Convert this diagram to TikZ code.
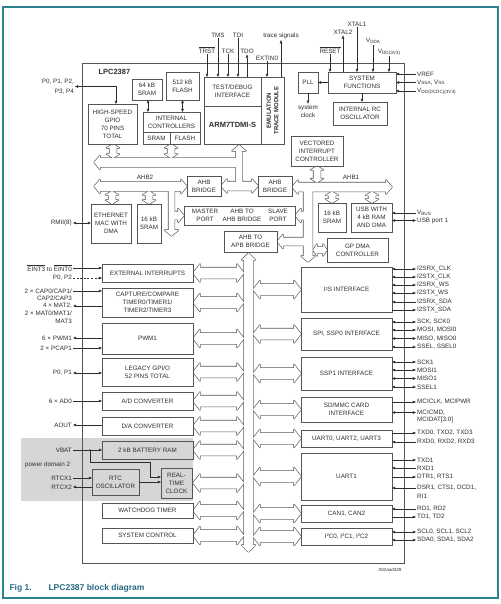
\documentclass[tikz,border=0pt]{standalone}
\usepackage{fontspec}
\setmainfont{Liberation Sans}
\usetikzlibrary{arrows.meta,calc}
\definecolor{frm}{RGB}{45,130,145}
\definecolor{capc}{RGB}{40,105,130}
\definecolor{ink}{RGB}{45,45,45}
\definecolor{edge}{RGB}{85,85,85}
\definecolor{pd}{RGB}{214,214,214}
\newcommand\fs{\fontsize{6.3}{8}\selectfont}
\newcommand\sbs[1]{\raisebox{-0.7pt}{\fontsize{4.6}{5}\selectfont #1}}
\newcommand\sps[1]{\raisebox{1.8pt}{\fontsize{4.2}{5}\selectfont #1}}
\newcommand\ov[1]{$\overline{\mbox{#1}}$}
\newcommand\bx[7][]{\node[box,#1,minimum width={#5pt-#3pt},minimum height={#6pt-#4pt},anchor=north west] (#2) at (#3,#4) {#7};}
% bus shapes
\newcommand\hda[6]{\path[bm] (#1,#3) -- ({#1+#6},{#3-#5}) -- ({#1+#6},{#3-#4}) -- ({#2-#6},{#3-#4}) -- ({#2-#6},{#3-#5}) -- (#2,#3) -- ({#2-#6},{#3+#5}) -- ({#2-#6},{#3+#4}) -- ({#1+#6},{#3+#4}) -- ({#1+#6},{#3+#5}) -- cycle;}
\newcommand\vda[6]{\path[bm] (#1,#2) -- ({#1-#5},{#2+#6}) -- ({#1-#4},{#2+#6}) -- ({#1-#4},{#3-#6}) -- ({#1-#5},{#3-#6}) -- (#1,#3) -- ({#1+#5},{#3-#6}) -- ({#1+#4},{#3-#6}) -- ({#1+#4},{#2+#6}) -- ({#1+#5},{#2+#6}) -- cycle;}
\newcommand\harr[6]{\pgfmathsetmacro\hb{#2-(#6)*sign(#2-#1)}\path[bm] (#1,{#3-#4}) -- (\hb,{#3-#4}) -- (\hb,{#3-#5}) -- (#2,#3) -- (\hb,{#3+#5}) -- (\hb,{#3+#4}) -- (#1,{#3+#4}) -- cycle;}
\newcommand\varr[6]{\pgfmathsetmacro\vb{#3-(#6)*sign(#3-#2)}\path[bm] ({#1-#4},#2) -- ({#1-#4},\vb) -- ({#1-#5},\vb) -- (#1,#3) -- ({#1+#5},\vb) -- ({#1+#4},\vb) -- ({#1+#4},#2) -- cycle;}
\newcommand\lbr[1]{\hda{193}{244}{#1}{5.5}{9}{7}}
\newcommand\rbr[1]{\hda{253}{301}{#1}{5.5}{9}{7}}
\newcommand\sva[3]{\vda{#1}{#2}{#3}{3.5}{6.5}{4}}
\newcommand\allbuses{%
% ARM local bus
\harr{240}{94}{162.5}{4.5}{7}{6}
\varr{239}{188}{145}{3}{7}{6}
\hda{221}{258}{186}{4.5}{7}{6}
% AHB2
\hda{94}{187}{186.5}{4.5}{7}{6}
\varr{171.5}{187}{236}{3}{7}{6}
\harr{171.5}{184}{215.5}{4}{7}{6}
% AHB1
\hda{292}{392}{187}{4.5}{7}{6}
\varr{308}{187}{262}{4.5}{7}{6}
\harr{308}{295}{215.5}{4}{7}{6}
\harr{308}{277}{241.5}{4}{7}{6}
\hda{313}{327}{250}{3}{6}{4}
% APB
\vda{248.5}{253}{552}{4.5}{7}{7}
\lbr{273}\lbr{302.5}\lbr{338.5}\lbr{372}\lbr{401}\lbr{426}\lbr{450}\lbr{483}\lbr{510.5}\lbr{535.5}
\rbr{289.5}\rbr{334}\rbr{373.5}\rbr{409.5}\rbr{438.5}\rbr{476.5}\rbr{513.5}\rbr{536.5}
% small links
\sva{113}{144}{158}\sva{171}{144}{158}
\sva{112}{191}{204}\sva{149}{191}{204}
\sva{317}{166}{182.5}\sva{332}{191.5}{203}\sva{372}{191.5}{203}
}
\begin{document}
\begin{tikzpicture}[x=1pt,y=-1pt,font=\fs,text=ink,
  box/.style={draw=edge,line width=0.7pt,fill=white,align=center,inner sep=0.5pt,outer sep=0pt,font=\fs},
  sig/.style={draw=ink,line width=0.45pt},
  lab/.style={inner sep=1pt,font=\fs},
  >={Triangle[length=3.2pt,width=2.6pt]}]
\useasboundingbox (0,0) rectangle (500,604);
\draw[frm,line width=1.2pt] (3,7) rectangle (498,598);
\node[anchor=west,font=\fontsize{8.5}{10}\bfseries\selectfont,text=capc] (fig) at (6,588) {Fig 1.};
\node[anchor=west,font=\fontsize{8.5}{10}\bfseries\selectfont,text=capc] (figt) at (45,588) {LPC2387 block diagram};
\node[font=\fontsize{4.5}{5}\itshape\selectfont] (code) at (390,570) {002aad328};
% power domain
\fill[pd] (21,438) rectangle (193,501);
% chip
\draw[edge,line width=0.8pt] (82,63) rectangle (404,563);
\node[anchor=west,font=\fontsize{7.5}{9}\bfseries\selectfont] (chip) at (95,72) {LPC2387};
% buses
\tikzset{bm/.style={draw=edge,line width=1.3pt,line join=round}}
\allbuses
\tikzset{bm/.style={fill=white}}
\allbuses
% top boxes
\bx{gpio}{88}{104}{137}{144}{HIGH-SPEED\\GPIO\\70 PINS\\TOTAL}
\bx{sram64}{132}{79}{162}{100}{64 kB\\SRAM}
\bx{flash}{166}{72}{199}{100}{512 kB\\FLASH}
\bx{ictl}{143}{112}{200}{132}{INTERNAL\\CONTROLLERS}
\bx{ictls}{143}{132}{170}{144}{SRAM}
\bx{ictlf}{170}{132}{200}{144}{FLASH}
\bx{dbg}{204}{77}{261}{106}{TEST/DEBUG\\INTERFACE}
\bx[font=\fontsize{7.5}{9}\bfseries\selectfont]{arm}{204}{106}{261}{144}{ARM7TDMI-S}
\bx{etm}{261}{77}{284}{144}{}
\node[rotate=90,align=center,font=\fontsize{6}{7.6}\bfseries\selectfont] (etmt) at (etm.center) {EMULATION\\TRACE MODULE};
\bx{pll}{298}{72}{318}{93}{PLL}
\bx{sysf}{328}{72}{396}{93}{SYSTEM\\FUNCTIONS}
\bx{rco}{333}{102}{387}{125}{INTERNAL RC\\OSCILLATOR}
\bx{vic}{291}{136}{343}{166}{VECTORED\\INTERRUPT\\CONTROLLER}
\bx{ahbbl}{187}{176}{221}{196}{AHB\\BRIDGE}
\bx{ahbbr}{258}{176}{292}{196}{AHB\\BRIDGE}
\bx{a2a}{184}{206}{295}{225}{}
\node[align=center] (mport) at (205,215.5) {MASTER\\PORT};
\node[align=center] (a2at) at (242,215.5) {AHB TO\\AHB BRIDGE};
\node[align=center] (sport) at (278,215.5) {SLAVE\\PORT};
\bx{a2p}{224}{231}{277}{252}{AHB TO\\APB BRIDGE}
\bx{eth}{91}{204}{131}{243}{ETHERNET\\MAC WITH\\DMA}
\bx{sraml}{137}{204}{161}{243}{16 kB\\SRAM}
\bx{sramr}{318}{203}{346}{232}{16 kB\\SRAM}
\bx{usb}{351}{203}{392}{232}{USB WITH\\4 kB RAM\\AND DMA}
\bx{gpdma}{327}{238}{388}{262}{GP DMA\\CONTROLLER}
% left modules
\bx{extint}{102}{264}{193}{282}{EXTERNAL INTERRUPTS}
\bx{capt}{102}{288}{193}{317}{CAPTURE/COMPARE\\TIMER0/TIMER1/\\TIMER2/TIMER3}
\bx{pwm}{102}{323}{193}{354}{PWM1}
\bx{lgpio}{102}{358}{193}{386}{LEGACY GPI/O\\52 PINS TOTAL}
\bx{adc}{102}{392}{193}{410}{A/D CONVERTER}
\bx{dac}{102}{417}{193}{435}{D/A CONVERTER}
\bx[fill=pd]{bram}{102}{441}{193}{459}{2 kB BATTERY RAM}
\bx[fill=pd]{rtco}{92}{469}{139}{495}{RTC\\OSCILLATOR}
\bx[fill=pd]{rtc}{161}{468}{192}{498}{REAL-\\TIME\\CLOCK}
\bx{wdt}{102}{503}{193}{518}{WATCHDOG TIMER}
\bx{sysc}{102}{528}{193}{543}{SYSTEM CONTROL}
% right modules
\bx{i2s}{301}{267}{392}{312}{I\sps{2}S INTERFACE}
\bx{spi}{301}{318}{392}{350}{SPI, SSP0 INTERFACE}
\bx{ssp}{301}{357}{392}{390}{SSP1 INTERFACE}
\bx{sd}{301}{397}{392}{422}{SD/MMC CARD\\INTERFACE}
\bx{uart}{301}{430}{392}{447}{UART0, UART2, UART3}
\bx{uarta}{301}{453}{392}{500}{UART1}
\bx{can}{301}{505}{392}{522}{CAN1, CAN2}
\bx{iic}{301}{528}{392}{545}{I\sps{2}C0, I\sps{2}C1, I\sps{2}C2}
% internal thin links
\draw[sig,<->] (sram64.south -| 148,0) -- (ictl.north -| 148,0);
\draw[sig,<->] (flash.south) -- (flash.south |- ictl.north);
\draw[sig,<-] (pll.east) -- (sysf.west);
\node[lab,align=center] (sclk) at (308,111) {system\\clock};
\draw[sig,->] (pll.south) -- (sclk.north);
\draw[sig,->] (sysf.south) -- (sysf.south |- rco.north);
% JTAG etc
\node[lab] (trst) at (207,50) {\ov{TRST}};
\node[lab] (tms) at (218,35) {TMS};
\node[lab] (tck) at (228,51) {TCK};
\node[lab] (tdi) at (238,35) {TDI};
\node[lab] (tdo) at (247,51) {TDO};
\node[lab] (ext0) at (267,58) {EXTIN0};
\node[lab] (trace) at (281,36) {trace signals};
\draw[sig,->] (trst.south) -- (trst.south |- dbg.north);
\draw[sig,->] (tms.south) -- (tms.south |- dbg.north);
\draw[sig,->] (tck.south) -- (tck.south |- dbg.north);
\draw[sig,->] (tdi.south) -- (tdi.south |- dbg.north);
\draw[sig,<-] (tdo.south) -- (tdo.south |- dbg.north);
\draw[sig,->] (ext0.south) -- (ext0.south |- etm.north);
\draw[sig,<-] (trace.south) -- (trace.south |- etm.north);
% system pins
\node[lab] (xtal1) at (357,24) {XTAL1};
\node[lab] (xtal2) at (343,32) {XTAL2};
\node[lab] (vdda) at (373,41) {V\sbs{DDA}};
\node[lab] (vdd) at (389,52) {V\sbs{DD(3V3)}};
\node[lab] (reset) at (330,50) {\ov{RESET}};
\draw[sig,->] (xtal1.south) -- (xtal1.south |- sysf.north);
\draw[sig,<-] (xtal2.south) -- (xtal2.south |- sysf.north);
\draw[sig,->] (vdda.south) -- (vdda.south |- sysf.north);
\draw[sig,->] (vdd.south) -- (vdd.south |- sysf.north);
\draw[sig,->] (reset.south) -- (reset.south |- sysf.north);
\node[lab,anchor=west] (vref) at (416,74) {VREF};
\node[lab,anchor=west] (vss) at (416,82.5) {V\sbs{SSA}, V\sbs{SS}};
\node[lab,anchor=west] (vddc) at (416,91) {V\sbs{DD(DCDC)(3V3)}};
\foreach \n in {vref,vss,vddc} \draw[sig,->] (\n.west) -- (\n.west -| sysf.east);
% P0..P4
\node[lab,anchor=east,align=right,font=\fontsize{6.3}{10}\selectfont] (p04) at (75,86.5) {P0, P1, P2,\\P3, P4};
\coordinate (gpin) at ($(gpio.north)+(3.5,0)$);
\draw[sig,<->] (p04.east) -| (gpin);
% left pins
\node[lab,anchor=east] (rmii) at (73,223) {RMII(8)};
\draw[sig,<->] (rmii.east) -- (rmii.east -| eth.west);
\node[lab,anchor=east] (ei) at (73,268) {\ov{EINT3} to \ov{EINT0}};
\node[lab,anchor=east] (p02) at (73,278) {P0, P2};
\node[lab,anchor=east] (cap1) at (73,291) {2 × CAP0/CAP1/};
\node[lab,anchor=east] (cap2) at (73,298.5) {CAP2/CAP3};
\node[lab,anchor=east] (mat1) at (73,306) {4 × MAT2,};
\node[lab,anchor=east] (mat2) at (73,313.5) {2 × MAT0/MAT1/};
\node[lab,anchor=east] (mat3) at (73,321) {MAT3};
\node[lab,anchor=east] (pwmo) at (73,338) {6 × PWM1};
\node[lab,anchor=east] (pcap) at (73,348) {2 × PCAP1};
\node[lab,anchor=east] (p01) at (73,373) {P0, P1};
\node[lab,anchor=east] (ad0) at (73,401) {6 × AD0};
\node[lab,anchor=east] (aout) at (73,425) {AOUT};
\node[lab,anchor=east] (vbat) at (73,450) {VBAT};
\node[lab,anchor=west] (pd2) at (24,465) {power domain 2};
\node[lab,anchor=east] (rx1) at (73,478) {RTCX1};
\node[lab,anchor=east] (rx2) at (73,487) {RTCX2};
\draw[sig,->] (ei.east) -- (ei.east -| extint.west);
\draw[sig,->,dashed,dash pattern=on 2pt off 1.6pt] (p02.east) -- (p02.east -| extint.west);
\draw[sig,->] (cap1.east) -- (cap1.east -| capt.west);
\draw[sig,<-] (mat1.east) -- (mat1.east -| capt.west);
\draw[sig,<-] (pwmo.east) -- (pwmo.east -| pwm.west);
\draw[sig,->] (pcap.east) -- (pcap.east -| pwm.west);
\draw[sig,<->] (p01.east) -- (p01.east -| lgpio.west);
\draw[sig,->] (ad0.east) -- (ad0.east -| adc.west);
\draw[sig,<-] (aout.east) -- (aout.east -| dac.west);
\draw[sig,->] (vbat.east) -- (vbat.east -| bram.west);
\coordinate (vj) at (90,450);
\coordinate (rtcin) at ($(rtc.west)+(0,-6)$);
\fill[ink] (vj) circle (1pt);
\draw[sig,->] (vj) -- (90,462) -- (150,462) |- (rtcin);
\draw[sig,->] (rx1.east) -- (rx1.east -| rtco.west);
\draw[sig,<-] (rx2.east) -- (rx2.east -| rtco.west);
\draw[sig,->] (rtco.east) -- (rtco.east -| rtc.west);
% right pins
\newcommand\rp[4]{\node[lab,anchor=west] (#1) at (416,#2) {#3};\draw[sig,#4] (#1.west -| i2s.east) -- (#1.west);}
\rp{usbv}{213}{V\sbs{BUS}}{<-}
\rp{usbp}{220.5}{USB port 1}{<->}
\rp{s1}{269}{I2SRX\_CLK}{<->}
\rp{s2}{277}{I2STX\_CLK}{<->}
\rp{s3}{285}{I2SRX\_WS}{<->}
\rp{s4}{293}{I2STX\_WS}{<->}
\rp{s5}{302}{I2SRX\_SDA}{<-}
\rp{s6}{310}{I2STX\_SDA}{->}
\rp{p1}{322}{SCK, SCK0}{<->}
\rp{p2}{330}{MOSI, MOSI0}{<->}
\rp{p3}{338.5}{MISO, MISO0}{<->}
\rp{p4}{347}{SSEL, SSEL0}{<->}
\rp{q1}{362}{SCK1}{<->}
\rp{q2}{370}{MOSI1}{<->}
\rp{q3}{378.5}{MISO1}{<->}
\rp{q4}{387}{SSEL1}{<->}
\rp{m1}{402}{MCICLK, MCIPWR}{->}
\rp{m2}{412.5}{MCICMD,}{<->}
\node[lab,anchor=west] (m3) at (416,420) {MCIDAT[3:0]};
\rp{u1}{433}{TXD0, TXD2, TXD3}{->}
\rp{u2}{442}{RXD0, RXD2, RXD3}{<-}
\rp{v1}{460}{TXD1}{->}
\rp{v2}{468}{RXD1}{<-}
\rp{v3}{477}{DTR1, RTS1}{->}
\rp{v4}{488}{DSR1, CTS1, DCD1,}{<-}
\node[lab,anchor=west] (v5) at (416,496.5) {RI1};
\rp{c1}{509}{RD1, RD2}{<-}
\rp{c2}{517}{TD1, TD2}{->}
\rp{k1}{532}{SCL0, SCL1, SCL2}{<->}
\rp{k2}{540}{SDA0, SDA1, SDA2}{<->}
\node[font=\fontsize{6.3}{7}\selectfont] (ahb2) at (145,177) {AHB2};
\node[font=\fontsize{6.3}{7}\selectfont] (ahb1) at (351,177) {AHB1};
\end{tikzpicture}
\end{document}
